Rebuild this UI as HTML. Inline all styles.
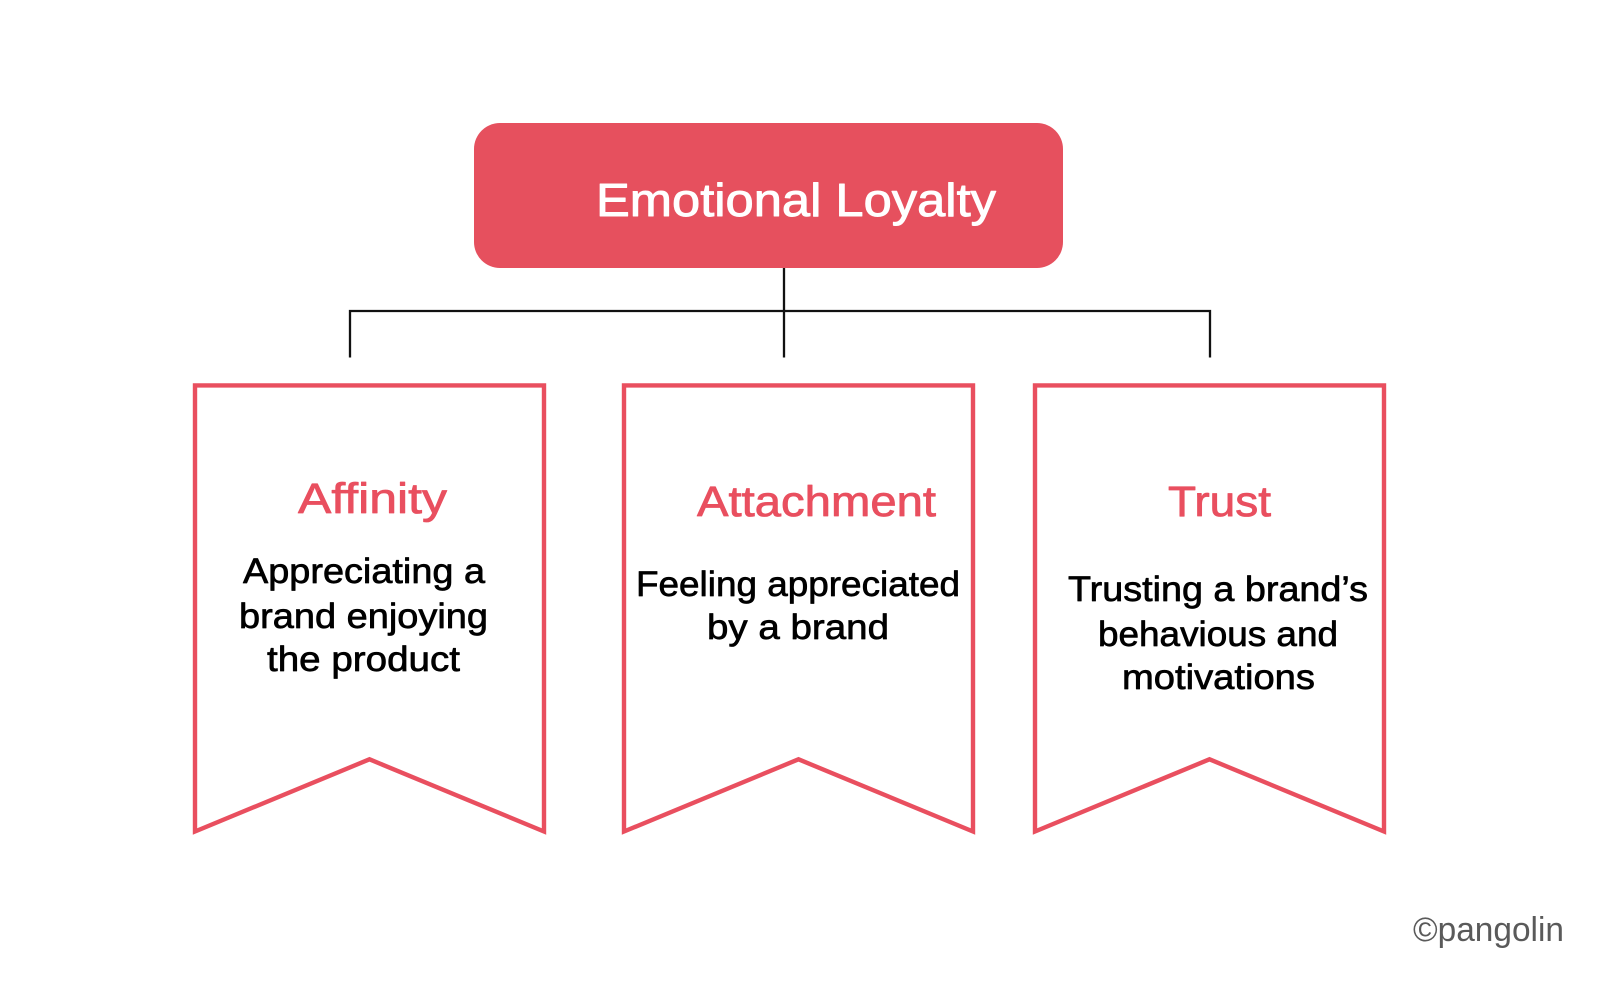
<!DOCTYPE html>
<html lang="en">
<head>
<meta charset="utf-8">
<title>Emotional Loyalty</title>
<style>
html,body{margin:0;padding:0;background:#fff;width:1600px;height:982px;overflow:hidden}
svg{display:block}
text{font-family:"Liberation Sans",sans-serif;stroke-linejoin:round;paint-order:stroke}
.h{font-size:43px;fill:#e94f5f;stroke:#e94f5f;stroke-width:.8px}
.b{font-size:35px;fill:#000;stroke:#000;stroke-width:.7px}
.t{font-size:46px;fill:#fff;stroke:#fff;stroke-width:.9px}
.c{font-size:34px;fill:#5a5a5a}
</style>
</head>
<body>
<svg width="1600" height="982" viewBox="0 0 1600 982" xmlns="http://www.w3.org/2000/svg">
<rect width="1600" height="982" fill="#fff"/>
<rect x="474" y="123" width="589" height="145" rx="26" ry="26" fill="#e6505e"/>
<text class="t" x="596" y="216" textLength="400" lengthAdjust="spacingAndGlyphs">Emotional Loyalty</text>

<g fill="none" stroke="#111" stroke-width="2.3">
<path d="M784 268V357.500"/>
<path d="M350 357.500V311H1210V357.500"/>
</g>

<g fill="#fff" stroke="#e94f5f" stroke-width="4.400" stroke-miterlimit="10">
<path d="M195 385.400H544V831.500L369.500 759.300L195 831.500Z"/>
<path d="M624 385.400H973V831.500L798.500 759.300L624 831.500Z"/>
<path d="M1035 385.400H1384V831.500L1209.500 759.300L1035 831.500Z"/>
</g>

<text class="h" x="298" y="513" textLength="149" lengthAdjust="spacingAndGlyphs">Affinity</text>
<text class="b" x="243" y="583" textLength="242" lengthAdjust="spacingAndGlyphs">Appreciating a</text>
<text class="b" x="239" y="628" textLength="249" lengthAdjust="spacingAndGlyphs">brand enjoying</text>
<text class="b" x="267" y="671" textLength="193" lengthAdjust="spacingAndGlyphs">the product</text>

<text class="h" x="697" y="516" textLength="239" lengthAdjust="spacingAndGlyphs">Attachment</text>
<text class="b" x="636" y="596" textLength="324" lengthAdjust="spacingAndGlyphs">Feeling appreciated</text>
<text class="b" x="707" y="639" textLength="182" lengthAdjust="spacingAndGlyphs">by a brand</text>

<text class="h" x="1168" y="516" textLength="103" lengthAdjust="spacingAndGlyphs">Trust</text>
<text class="b" x="1068" y="601" textLength="300" lengthAdjust="spacingAndGlyphs">Trusting a brand’s</text>
<text class="b" x="1098" y="646" textLength="240" lengthAdjust="spacingAndGlyphs">behavious and</text>
<text class="b" x="1122" y="689" textLength="193" lengthAdjust="spacingAndGlyphs">motivations</text>

<text class="c" x="1413" y="941" textLength="151" lengthAdjust="spacingAndGlyphs">©pangolin</text>
</svg>
</body>
</html>
